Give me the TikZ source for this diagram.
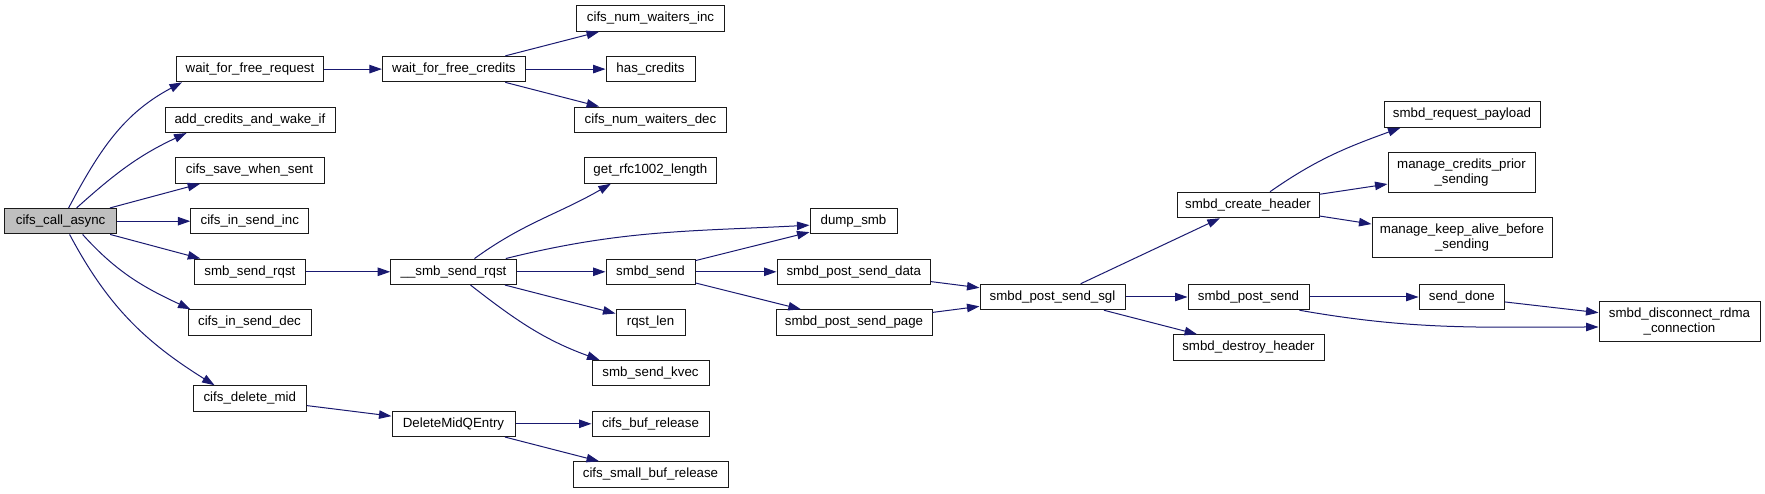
\documentclass[tikz,border=0pt]{standalone}
\usepackage{fontspec}
\setmainfont{Liberation Sans}
\usetikzlibrary{arrows.meta}
\definecolor{paper}{HTML}{FFFFFF}
\definecolor{frame}{HTML}{1A1A1A}
\definecolor{root}{HTML}{BFBFBF}
\definecolor{wire}{HTML}{191970}
\newcommand{\BoxH}{25.5pt}
\newcommand{\TwoH}{40pt}

\begin{document}
\begin{tikzpicture}[
    x=1pt, y=1pt,
    font=\fontsize{13.3}{15}\selectfont,
    fn/.style={draw=frame, line width=1pt, fill=paper, minimum height=\BoxH, inner sep=1pt, align=center},
    fntwo/.style={fn, minimum height=\TwoH},
    rootfn/.style={fn, fill=root},
    call/.style={-{Triangle[length=12.5pt, width=8.5pt]}, line width=1pt, draw=wire},
  ]
\useasboundingbox (0,0) rectangle (1765,493);

% --- The caller -------------------------------------------------------------
\node[rootfn, minimum width=112pt] (call) at (60.6,271.8) {cifs\_call\_async};

% --- One-line callees, column by column ---------------------------------------
\foreach \n/\x/\y/\w/\t in {
    wfreq/250/423.9/147/{wait\_for\_free\_request},
    addcred/250/373.2/170/{add\_credits\_and\_wake\_if},
    savesent/249.5/322.5/149/{cifs\_save\_when\_sent},
    sendinc/249.8/271.8/118/{cifs\_in\_send\_inc},
    sendrqst/249.9/221.2/111/{smb\_send\_rqst},
    senddec/249.5/170.5/123/{cifs\_in\_send\_dec},
    delmid/249.8/94.5/113.5/{cifs\_delete\_mid},
    wfcred/453.9/423.9/143/{wait\_for\_free\_credits},
    sendrqstu/453.5/221.2/125.6/{\_\_smb\_send\_rqst},
    delentry/453.5/69.2/123/{DeleteMidQEntry},
    waitinc/650.5/474.5/148/{cifs\_num\_waiters\_inc},
    hascred/650.5/423.9/89/{has\_credits},
    waitdec/650.5/373.2/152/{cifs\_num\_waiters\_dec},
    rfclen/650.4/322.5/132/{get\_rfc1002\_length},
    smbdsend/650.5/221.2/89/{smbd\_send},
    rqstlen/650.5/170.5/69/{rqst\_len},
    kvec/650.5/119.8/117/{smb\_send\_kvec},
    bufrel/650.5/69.2/117/{cifs\_buf\_release},
    smallbuf/650.5/18.5/155/{cifs\_small\_buf\_release},
    dump/853.5/271.8/87/{dump\_smb},
    postdata/853.8/221.2/153.6/{smbd\_post\_send\_data},
    postpage/854/170.5/156/{smbd\_post\_send\_page},
    postsgl/1052.5/196/145/{smbd\_post\_send\_sgl},
    createhdr/1248/288/142/{smbd\_create\_header},
    postsend/1248.5/196/121/{smbd\_post\_send},
    destroyhdr/1248.5/145.5/151/{smbd\_destroy\_header},
    payload/1462/378.5/156/{smbd\_request\_payload},
    senddone/1461.8/196/85.5/{send\_done}} {
  \node[fn, minimum width=\w pt] (\n) at (\x,\y) {\t};
}

% --- Two-line callees ---------------------------------------------------------
\node[fntwo, minimum width=147pt] (credprior) at (1461.5,320) {manage\_credits\_prior\\\_sending};
\node[fntwo, minimum width=180pt] (keepalive) at (1462,255) {manage\_keep\_alive\_before\\\_sending};
\node[fntwo, minimum width=161pt] (disconn) at (1679.5,171) {smbd\_disconnect\_rdma\\\_connection};

% --- Straight calls -----------------------------------------------------------
\foreach \a/\b in {call/savesent, call/sendinc, call/sendrqst,
    wfreq/wfcred, wfcred/waitinc, wfcred/hascred, wfcred/waitdec,
    sendrqst/sendrqstu, sendrqstu/smbdsend, sendrqstu/rqstlen,
    smbdsend/dump, smbdsend/postdata, smbdsend/postpage,
    postdata/postsgl, postpage/postsgl,
    postsgl/createhdr, postsgl/postsend, postsgl/destroyhdr,
    createhdr/credprior, createhdr/keepalive,
    postsend/senddone, senddone/disconn,
    delmid/delentry, delentry/bufrel, delentry/smallbuf} {
  \draw[call] (\a) -- (\b);
}

% --- Bent calls ---------------------------------------------------------------
\draw[call] ([xshift=8pt]call.north) to[out=62, in=208] ([xshift=6pt]wfreq.south west);
\draw[call] ([xshift=16pt]call.north) to[out=42, in=205] ([xshift=22pt]addcred.south west);
\draw[call] ([xshift=22pt]call.south) to[out=-48, in=155] ([xshift=3pt]senddec.north west);
\draw[call] ([xshift=9pt]call.south) to[out=-62, in=148] ([xshift=22pt]delmid.north west);
\draw[call] ([xshift=21pt]sendrqstu.north) to[out=36, in=210] ([xshift=27pt]rfclen.south west);
\draw[call] ([xshift=-11pt]sendrqstu.north east) to[out=14, in=183] ([yshift=-4pt]dump.west);
\draw[call] ([xshift=17pt]sendrqstu.south) to[out=-38, in=160] ([xshift=8pt]kvec.north west);
\draw[call] ([xshift=22pt]createhdr.north) to[out=35, in=200] ([xshift=17pt]payload.south west);
\draw[call] ([xshift=-10pt]postsend.south east) to[out=-10, in=180] ([yshift=-5pt]disconn.west);

\end{tikzpicture}
\end{document}
